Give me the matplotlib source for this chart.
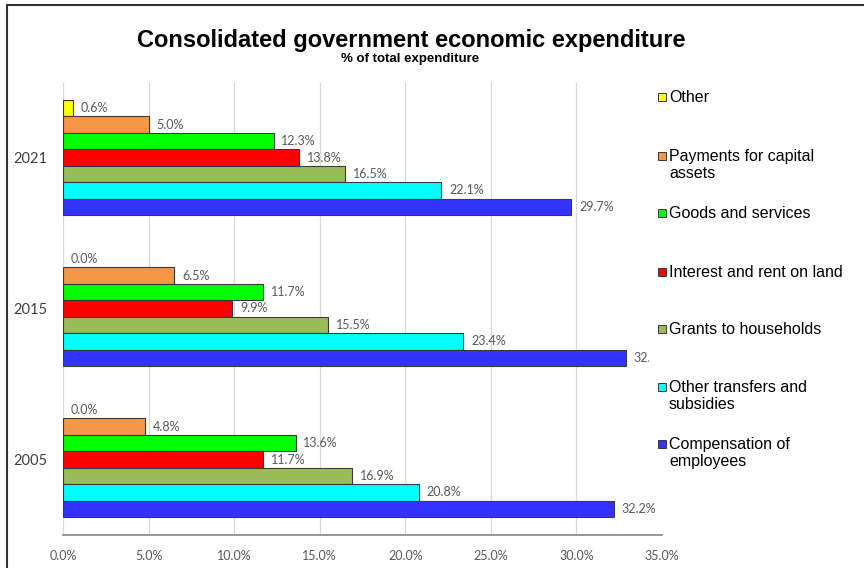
import matplotlib.pyplot as plt
import matplotlib.patches as mpatches
import matplotlib.lines as mlines
from matplotlib.transforms import Bbox, TransformedBbox
import numpy as np

years = ["2005", "2015", "2021"]

# series listed top to bottom as they appear within each year group
series = [
    "Other",
    "Payments for capital\nassets",
    "Goods and services",
    "Interest and rent on land",
    "Grants to households",
    "Other transfers and\nsubsidies",
    "Compensation of\nemployees",
]

# values per series for 2005, 2015, 2021
other = [0.0, 0.0, 0.6]
capital_assets = [4.8, 6.5, 5.0]
goods_services = [13.6, 11.7, 12.3]
interest_rent = [11.7, 9.9, 13.8]
grants_households = [16.9, 15.5, 16.5]
transfers_subsidies = [20.8, 23.4, 22.1]
compensation = [32.2, 32.9, 29.7]

values = [other, capital_assets, goods_services, interest_rent,
          grants_households, transfers_subsidies, compensation]

colors = [
    "#FFFF00",
    "#F79646",
    "#00FF00",
    "#FF0000",
    "#9BBB59",
    "#00FFFF",
    "#3333FF",
]

xticks = np.arange(0, 40, 5)

W, H = 864, 568
fig = plt.figure(figsize=(W / 100, H / 100), dpi=100)
ax = fig.add_axes([63 / W, 1 - 535 / H, (662 - 63) / W, (535 - 82) / H])

bar_h = 0.109
n = len(series)
base = np.arange(len(years))

label_font = dict(family=["Lato", "DejaVu Sans"], size=9, color="#595959")

for idx, (name, vals) in enumerate(zip(series, values)):
    # top series sits highest in the group
    ys = base + (n - 1 - idx - (n - 1) / 2) * bar_h
    ax.barh(ys, vals, height=bar_h, color=colors[idx], edgecolor="#3a3a3a",
            linewidth=[0.8 if v > 0 else 0 for v in vals], zorder=2)
    for y, v in zip(ys, vals):
        t = ax.text(v + 0.45, y, f"{v:.1f}%", va="center", ha="left",
                    zorder=3, **label_font)
        # the 2015 compensation label runs into the legend area and is cut off
        if idx == n - 1 and 0.5 < y < 1.5:
            t.set_clip_box(TransformedBbox(Bbox([[0, -1], [34.25, 5]]),
                                           ax.transData))
            t.set_clip_on(True)

ax.set_xlim(0, 35)
ax.set_ylim(-0.5, 2.5)
ax.set_xticks(xticks)
ax.set_xticklabels([f"{x:.1f}%" for x in xticks], **label_font)
ax.set_yticks(base)
ax.set_yticklabels(years, family=["Lato", "DejaVu Sans"], size=10.5,
                   color="#404040")
ax.tick_params(axis="both", length=0)
ax.tick_params(axis="x", pad=11)
ax.tick_params(axis="y", pad=11)

ax.grid(True, axis="x", color="#D9D9D9", linewidth=0.9, zorder=1)
ax.xaxis.get_gridlines()[-1].set_visible(False)
for side in ["top", "right", "left"]:
    ax.spines[side].set_visible(False)
ax.spines["bottom"].set_color("#868686")
ax.spines["bottom"].set_linewidth(1.2)

fig.text(411 / W, 1 - 41 / H, "Consolidated government economic expenditure",
         ha="center", va="center", fontsize=17, fontweight="bold",
         family="Liberation Sans")
fig.text(410 / W, 1 - 59 / H, "% of total expenditure", ha="center",
         va="center", fontsize=9.5, fontweight="bold", family="Liberation Sans")

# legend entries drawn by hand down the right side
legend_top = [97, 156, 213, 272, 329, 387, 444]
for idx, name in enumerate(series):
    yc = legend_top[idx]
    sq = mpatches.Rectangle((658 / W, 1 - (yc + 4) / H), 8 / W, 8 / H,
                            transform=fig.transFigure, facecolor=colors[idx],
                            edgecolor="#3a3a3a", linewidth=0.7)
    fig.add_artist(sq)
    fig.text(669 / W, 1 - (yc - 7) / H, name, ha="left", va="top",
             fontsize=11.5, family="Liberation Sans", color="black",
             linespacing=1.15)

# chart frame along the top and left edge
frame = mlines.Line2D([7 / W, 7 / W, 1], [0, 1 - 5 / H, 1 - 5 / H],
                      transform=fig.transFigure, color="#333333",
                      linewidth=1.5)
fig.add_artist(frame)

plt.savefig("out.png", dpi=100)
